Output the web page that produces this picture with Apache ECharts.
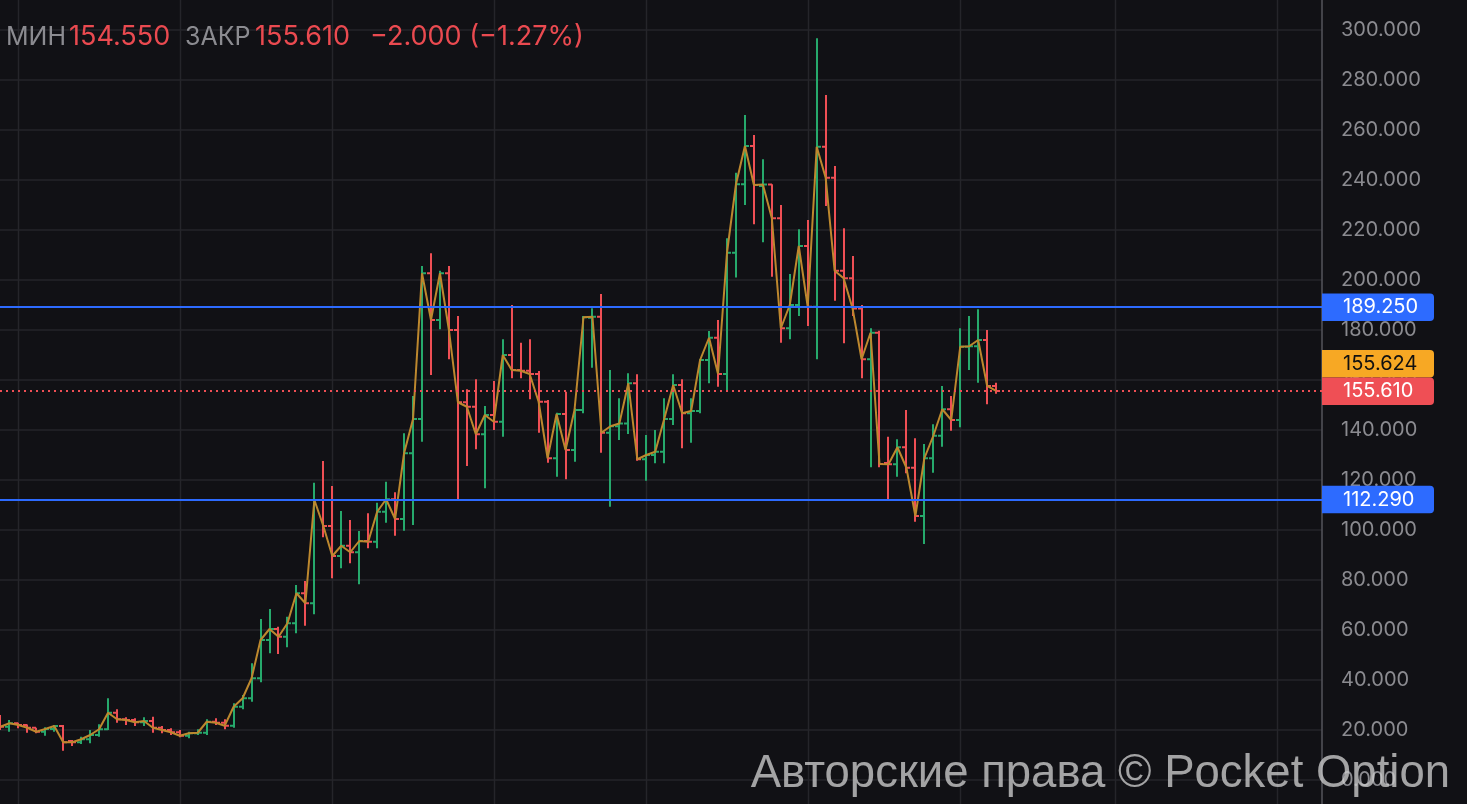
<!DOCTYPE html>
<html>
<head>
<meta charset="utf-8">
<script src="https://cdn.jsdelivr.net/npm/echarts@6/dist/echarts.min.js"></script>
<style>
  html, body { margin: 0; padding: 0; background: #111115; }
  #chart { width: 1467px; height: 804px; }
</style>
</head>
<body>
<div id="chart"></div>
<script>
// Weekly OHLC series, one entry per bar (oldest first)
const opens = [
  24.0, 21.3, 22.7, 22.0, 20.9, 19.3, 20.4, 21.6, 15.6, 15.1,
  16.3, 18.0, 20.3, 26.9, 24.3, 24.0, 23.1, 23.6, 20.9, 20.0,
  19.1, 17.7, 18.7, 18.9, 23.3, 22.9, 21.7, 29.3, 32.7, 40.7,
  56.0, 60.4, 57.3, 62.7, 74.7, 70.7, 112.0, 101.6, 89.6, 93.7,
  91.1, 95.6, 95.3, 107.3, 112.3, 104.4, 130.7, 144.4, 202.7, 184.0,
  202.7, 180.0, 151.1, 149.3, 138.3, 146.0, 143.3, 170.0, 164.0, 163.7,
  162.4, 151.3, 128.7, 146.4, 132.0, 148.0, 184.9, 185.3, 138.9, 141.5,
  142.6, 158.7, 128.3, 130.0, 131.3, 144.4, 158.0, 146.7, 147.6, 168.0,
  176.9, 162.4, 210.9, 238.3, 253.6, 237.6, 238.2, 224.7, 180.7, 190.0,
  213.6, 189.3, 253.3, 240.9, 203.7, 200.7, 188.6, 168.3, 178.9, 126.8,
  126.3, 133.1, 124.9, 105.6, 128.7, 137.7, 148.3, 144.0, 173.3, 173.5,
  176.0, 157.61
];
const highs = [
  26.0, 24.0, 22.9, 22.2, 20.9, 21.1, 22.0, 22.0, 16.0, 17.3,
  20.0, 22.3, 32.7, 28.3, 25.1, 24.7, 25.1, 25.3, 21.6, 20.7,
  20.0, 19.3, 20.3, 24.3, 24.7, 24.3, 30.7, 34.0, 46.7, 64.4,
  68.4, 61.3, 65.3, 78.0, 79.6, 118.9, 127.6, 117.6, 107.6, 104.0,
  99.6, 106.7, 110.9, 119.3, 115.1, 138.7, 153.6, 205.6, 210.7, 203.7,
  205.6, 185.6, 156.3, 160.3, 149.6, 159.6, 176.3, 190.0, 174.9, 176.3,
  163.6, 152.0, 146.9, 155.3, 148.7, 185.6, 188.7, 194.4, 164.0, 152.7,
  162.7, 162.3, 138.0, 140.0, 152.7, 162.3, 160.3, 152.7, 168.3, 179.6,
  184.0, 216.7, 242.9, 266.0, 258.0, 248.3, 238.3, 230.0, 202.4, 220.3,
  224.0, 296.7, 274.0, 245.6, 220.7, 209.6, 190.0, 180.7, 179.7, 137.3,
  136.3, 148.0, 136.7, 134.4, 142.3, 157.6, 153.6, 180.7, 185.6, 188.3,
  180.0, 158.9
];
const lows = [
  20.0, 19.3, 20.7, 18.9, 18.7, 17.7, 19.3, 11.7, 13.6, 14.4,
  14.7, 17.3, 20.0, 22.9, 22.0, 21.6, 21.6, 18.9, 18.7, 18.0,
  17.1, 16.7, 18.0, 18.0, 22.0, 20.3, 20.9, 28.3, 31.3, 39.1,
  50.7, 50.4, 53.1, 58.7, 61.7, 66.3, 97.1, 80.7, 84.7, 86.7,
  78.3, 92.7, 92.7, 102.9, 97.7, 99.7, 102.0, 135.3, 162.0, 180.3,
  168.3, 112.0, 125.6, 132.3, 116.7, 140.0, 137.3, 160.7, 160.7, 152.3,
  138.9, 126.9, 121.3, 120.3, 127.3, 146.7, 164.9, 130.9, 109.3, 136.0,
  138.4, 127.7, 119.7, 126.7, 126.7, 142.0, 132.7, 134.9, 146.7, 158.7,
  157.3, 155.3, 201.0, 230.0, 222.3, 215.1, 201.3, 174.9, 176.3, 185.6,
  181.6, 168.3, 229.6, 191.7, 174.7, 185.6, 160.7, 125.1, 125.1, 111.7,
  121.3, 122.7, 103.3, 94.4, 122.9, 133.3, 139.7, 141.1, 164.0, 158.9,
  150.3, 154.55
];
const closes = [
  21.3, 22.7, 22.0, 20.9, 19.3, 20.4, 21.6, 15.1, 15.1, 16.3,
  18.0, 20.3, 26.9, 24.3, 24.0, 23.1, 23.6, 20.9, 20.0, 19.1,
  17.7, 18.7, 18.9, 23.3, 22.9, 21.7, 29.3, 32.7, 40.7, 56.0,
  60.4, 57.3, 62.7, 74.7, 70.7, 112.0, 101.6, 89.6, 93.7, 91.1,
  95.6, 95.3, 107.3, 112.3, 104.4, 130.7, 144.4, 202.7, 184.0, 202.7,
  180.0, 151.1, 149.3, 138.3, 146.0, 143.3, 170.0, 164.0, 163.7, 162.4,
  151.3, 128.7, 146.4, 132.0, 148.0, 185.1, 185.3, 138.9, 141.5, 142.6,
  158.7, 128.3, 130.0, 131.3, 144.4, 158.0, 146.7, 147.6, 168.0, 176.9,
  162.4, 210.9, 238.3, 253.6, 238.0, 238.2, 224.7, 180.7, 190.0, 213.6,
  189.3, 253.3, 240.9, 203.7, 200.7, 188.6, 168.3, 178.9, 126.4, 126.3,
  133.1, 124.9, 105.6, 128.7, 137.7, 148.3, 144.0, 173.3, 173.5, 176.0,
  157.61, 155.61
];

// Horizontal levels drawn across the chart
const levels = [189.25, 112.29];
// Current quote shown in the amber tag
const bidPrice = 155.624;
// Bars where the time grid draws a vertical line
const timeGridBars = [2, 20, 37, 55, 72, 90, 107, 124.3, 142.3];
// Price axis range and step
const priceMin = -20, priceMax = 320, priceStep = 20;

const BG = '#111115';
const GRID = '#25252a';
const GREEN = '#26a96c';
const RED = '#ef4f55';
const LINE = '#bd882e';
const BLUE = '#2d6bff';
const AMBER = '#f7a824';
const TEXT = '#8b8b90';
const HEAD_RED = '#ea4a50';
const FONT = 'Inter, "Noto Sans", sans-serif';

const chart = echarts.init(document.getElementById('chart'));

const bars = closes.map((c, i) => [i, opens[i], c, lows[i], highs[i]]);
const closeLine = closes.map((c, i) => [i, c]);
const last = closes.length - 1;
const lastClose = closes[last];
const change = lastClose - closes[last - 1];
const changePct = change / closes[last - 1] * 100;
const fmt = v => v.toFixed(3);
const signed = (v, d) => (v < 0 ? '\u2212' : '+') + Math.abs(v).toFixed(d);

chart.setOption({
  backgroundColor: BG,
  animation: false,
  grid: { left: 0, right: 145, top: -20, bottom: -26, outerBoundsMode: 'none', containLabel: false },
  xAxis: {
    type: 'value', min: -0.045, max: 147.33,
    show: false, splitLine: { show: false }
  },
  yAxis: {
    type: 'value', position: 'right',
    min: priceMin, max: priceMax, interval: priceStep,
    axisLine: { show: true, onZero: false, lineStyle: { color: '#55555b', width: 1.5 } },
    axisTick: { show: false },
    splitLine: { show: true, lineStyle: { color: GRID, width: 1.5 } },
    axisLabel: {
      color: TEXT, fontSize: 20, fontFamily: FONT, margin: 19,
      formatter: v => fmt(v)
    }
  },
  series: [
    {
      // vertical time grid lines
      type: 'custom', z: 1, silent: true, clip: false,
      data: timeGridBars.map(b => [b]),
      encode: { x: 0 },
      renderItem: (params, api) => {
        const x = Math.round(api.coord([api.value(0), 0])[0]) + 0.5;
        return {
          type: 'line',
          shape: { x1: x, y1: 0, x2: x, y2: 804 },
          style: { stroke: GRID, lineWidth: 1.5 }
        };
      }
    },
    {
      // OHLC bars: stem from low to high, open tick left, close tick right
      type: 'custom', z: 3, clip: false,
      data: bars,
      encode: { x: 0, y: [1, 2, 3, 4] },
      renderItem: (params, api) => {
        const i = api.value(0);
        const o = api.value(1), c = api.value(2), l = api.value(3), h = api.value(4);
        const pH = api.coord([i, h]), pL = api.coord([i, l]);
        const pO = api.coord([i, o]), pC = api.coord([i, c]);
        const color = c >= o ? GREEN : RED;
        const x = Math.round(pH[0]);
        const st = { stroke: color, lineWidth: 2 };
        return {
          type: 'group',
          children: [
            { type: 'line', shape: { x1: x, y1: pH[1], x2: x, y2: pL[1] }, style: st },
            { type: 'line', shape: { x1: x - 4, y1: pO[1], x2: x, y2: pO[1] }, style: st },
            { type: 'line', shape: { x1: x, y1: pC[1], x2: x + 4, y2: pC[1] }, style: st }
          ]
        };
      }
    },
    {
      // close-to-close line with price levels
      type: 'line', z: 4,
      data: closeLine,
      showSymbol: false, symbol: 'none',
      lineStyle: { color: LINE, width: 2 },
      markLine: {
        silent: true, symbol: 'none', animation: false,
        label: { show: false },
        data: [
          ...levels.map(v => ({ yAxis: v, lineStyle: { color: BLUE, width: 2, type: 'solid' } })),
          { yAxis: lastClose, lineStyle: { color: RED, width: 2, type: [2, 4] } }
        ]
      }
    }
  ]
});

// Price tags on the axis, positioned through the y scale
function priceTag(value, text, bg, fg, dy) {
  const y = chart.convertToPixel({ yAxisIndex: 0 }, value) + (dy || 0);
  return {
    type: 'group', zlevel: 1, z: 100,
    children: [
      { type: 'rect', zlevel: 1, shape: { x: 1322, y: y - 13.5, width: 112, height: 27.5, r: [0, 4, 4, 0] },
        style: { fill: bg } },
      { type: 'text', zlevel: 1, x: 1343, y: y + 0.5,
        style: { text: text, fill: fg, fontSize: 20, fontFamily: FONT, verticalAlign: 'middle', align: 'left' } }
    ]
  };
}

const tags = [
  priceTag(levels[0], fmt(levels[0]), BLUE, '#ffffff'),
  priceTag(bidPrice, fmt(bidPrice), AMBER, '#111111', -27.5),
  priceTag(lastClose, fmt(lastClose), RED, '#ffffff'),
  priceTag(levels[1], fmt(levels[1]), BLUE, '#ffffff')
];

// Header row: label / value pairs for the latest bar
function headText(x, text, fill, size) {
  return {
    type: 'text', x: x, y: 37, z: 100,
    style: { text: text, fill: fill, fontSize: size, fontFamily: FONT, verticalAlign: 'middle', align: 'left' }
  };
}

chart.setOption({
  graphic: [
    ...tags,
    headText(6, 'МИН', TEXT, 25),
    headText(69, fmt(lows[last]), HEAD_RED, 27),
    headText(185, 'ЗАКР', TEXT, 25),
    headText(255, fmt(lastClose), HEAD_RED, 27),
    headText(370, signed(change, 3) + ' (' + signed(changePct, 2) + '%)', HEAD_RED, 27),
    {
      type: 'text', zlevel: 2, z: 200, x: 1450, y: 774,
      style: {
        text: 'Авторские права © Pocket Option',
        fill: 'rgba(205,205,205,0.78)',
        fontSize: 45.5, fontFamily: '"Liberation Sans", Arial, sans-serif',
        align: 'right', verticalAlign: 'middle'
      }
    }
  ]
});
</script>
</body>
</html>
